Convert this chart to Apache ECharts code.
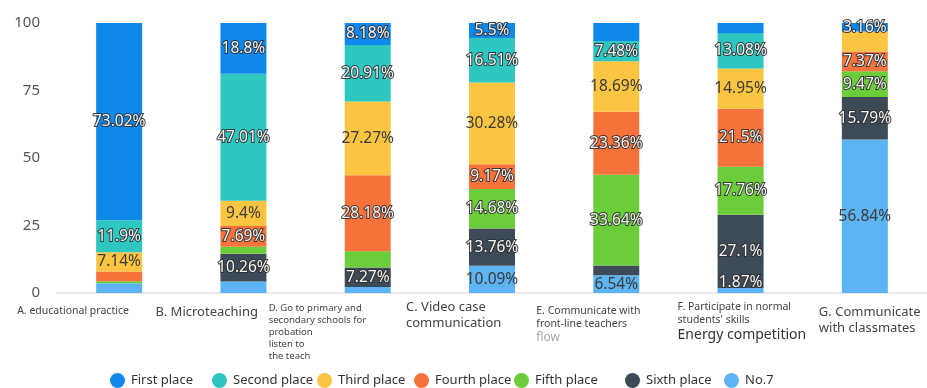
<!DOCTYPE html>
<html>
<head>
<meta charset="utf-8">
<script src="https://cdn.jsdelivr.net/npm/echarts@6/dist/echarts.min.js"></script>
<style>
  html, body { margin: 0; padding: 0; background: #fff; }
  #chart { width: 927px; height: 388px; }
</style>
</head>
<body>
<div id="chart"></div>
<script>
// Survey options (x axis, in display order)
const categories = [
  'A. educational practice',
  'B. Microteaching',
  'D. Go to primary and secondary schools for probation listen to the teach',
  'C. Video case communication',
  'E. Communicate with front-line teachers flow',
  "F. Participate in normal students' skills Energy competition",
  'G. Communicate with classmates'
];

// Lines of each category caption as printed under the axis
const categoryLines = [
  ['A. educational practice'],
  ['B. Microteaching'],
  ['D. Go to primary and', 'secondary schools for', 'probation', 'listen to', 'the teach'],
  ['C. Video case', 'communication'],
  ['E. Communicate with', 'front-line teachers', 'flow'],
  ['F. Participate in normal', "students' skills", 'Energy competition'],
  ['G. Communicate', 'with classmates']
];

// Ranking places (legend / series)
const placeNames = ['First place', 'Second place', 'Third place', 'Fourth place', 'Fifth place', 'Sixth place', 'No.7'];

// Share of respondents (%) giving each place to each option
const firstPlace  = [73.02, 18.8, 8.18, 5.5, 6.69, 3.74, 3.16];
const secondPlace = [11.9, 47.01, 20.91, 16.51, 7.48, 13.08, 0];
const thirdPlace  = [7.14, 9.4, 27.27, 30.28, 18.69, 14.95, 7.37];
const fourthPlace = [3.57, 7.69, 28.18, 9.17, 23.36, 21.5, 7.37];
const fifthPlace  = [0.79, 2.56, 6.0, 14.68, 33.64, 17.76, 9.47];
const sixthPlace  = [0, 10.26, 7.27, 13.76, 3.6, 27.1, 15.79];
const seventhPlace = [3.58, 4.28, 2.19, 10.09, 6.54, 1.87, 56.84];

// Segments whose value label is not printed: [place index, category index]
const unlabeled = [
  [3, 0], [4, 0], [6, 0],
  [4, 1], [6, 1],
  [4, 2], [6, 2],
  [0, 4], [5, 4],
  [0, 5],
  [2, 6]
];

const yTicks = [0, 25, 50, 75, 100];

// ---- presentation ----
const FONT = '"Noto Sans", "DejaVu Sans", sans-serif';
const palette = ['#0f88ec', '#2ec6c0', '#fbc541', '#f7733b', '#6ccd3b', '#3d4a57', '#5db4f2'];
const darkText = [false, false, true, false, false, false, true];

const lightLabel = { color: '#f4f4f4', textBorderColor: 'rgba(45,45,45,0.9)', textBorderWidth: 2 };
const darkLabel = { color: '#3a3a3a', textBorderColor: 'transparent', textBorderWidth: 0 };

// thin segments whose label is lifted clear of the axis: [place index, category index, dy]
const liftedLabels = [[6, 5, -8]];

const allPlaces = [firstPlace, secondPlace, thirdPlace, fourthPlace, fifthPlace, sixthPlace, seventhPlace];

// First place sits on top of each column, so the stack is built from No.7 upward
const series = placeNames.map((name, s) => ({
  name: name,
  type: 'bar',
  stack: 'rank',
  barWidth: 46,
  itemStyle: { color: palette[s] },
  data: allPlaces[s].map((v, c) => {
    const hide = v === 0 || unlabeled.some(p => p[0] === s && p[1] === c);
    const lift = liftedLabels.find(p => p[0] === s && p[1] === c);
    const label = { show: !hide };
    if (lift) Object.assign(label, lightLabel, { offset: [0, lift[2]] });
    return { value: v, label: label };
  }),
  label: Object.assign({
    position: 'inside',
    formatter: '{c}%',
    fontFamily: FONT,
    fontSize: 15.5
  }, darkText[s] ? darkLabel : lightLabel)
})).reverse();

const chart = echarts.init(document.getElementById('chart'), null, { renderer: 'canvas' });

// legend items placed individually along the bottom
const legendLeft = [110, 212, 317, 414, 514, 625, 724];

chart.setOption({
  animation: false,
  grid: { left: 57, right: -12, top: 23, bottom: 95 },
  legend: placeNames.map((n, i) => ({
    data: [n],
    left: legendLeft[i],
    top: 373,
    padding: 0,
    icon: 'circle',
    itemWidth: 15,
    itemHeight: 15,
    itemGap: 0,
    textStyle: { fontFamily: FONT, fontSize: 13, color: '#333', padding: [0, 0, 0, 1] }
  })),
  xAxis: {
    type: 'category',
    data: categories,
    axisLine: { lineStyle: { color: '#e2e2e2', width: 1.5 } },
    axisTick: { show: false },
    axisLabel: { show: false }
  },
  yAxis: {
    type: 'value',
    min: yTicks[0],
    max: yTicks[yTicks.length - 1],
    interval: yTicks[1] - yTicks[0],
    axisLine: { show: false },
    axisTick: { show: false },
    splitLine: { show: false },
    axisLabel: { fontFamily: FONT, fontSize: 15, color: '#555', margin: 17 }
  },
  series: series
});

// category captions under the axis, anchored to each category's position
const rich = {
  a: { fontFamily: FONT, fontSize: 10.5, lineHeight: 13, fill: '#444' },
  m: { fontFamily: FONT, fontSize: 13, lineHeight: 16, fill: '#444' },
  xs: { fontFamily: FONT, fontSize: 9.5, lineHeight: 12, fill: '#444' },
  s: { fontFamily: FONT, fontSize: 10.5, lineHeight: 13, fill: '#444' },
  g: { fontFamily: FONT, fontSize: 12, lineHeight: 13, fill: '#a8a8a8' },
  l: { fontFamily: FONT, fontSize: 14, lineHeight: 17, fill: '#333' }
};
const captionStyle = [
  ['a'],
  ['m'],
  ['xs', 'xs', 'xs', 'xs', 'xs'],
  ['m', 'm'],
  ['s', 's', 'g'],
  ['s', 's', 'l'],
  ['m', 'm']
];
const captionOffset = [[-102, 305], [-88, 304], [-99, 302], [-86, 299], [-80, 305], [-63, 301], [-46, 304]];

const graphics = categoryLines.map((lines, i) => {
  const cx = chart.convertToPixel({ xAxisIndex: 0 }, i);
  const text = lines.map((t, k) => '{' + captionStyle[i][k] + '|' + t + '}').join('\n');
  return {
    type: 'text',
    x: cx + captionOffset[i][0],
    y: captionOffset[i][1],
    style: { text: text, rich: rich, align: 'left', verticalAlign: 'top' },
    silent: true
  };
});
chart.setOption({ graphic: graphics });
</script>
</body>
</html>
